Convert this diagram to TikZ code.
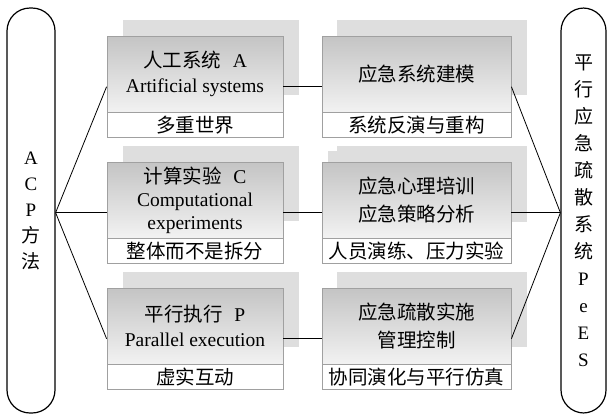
\documentclass[tikz,border=0pt]{standalone}
\usepackage{fontspec}
\setmainfont{Liberation Serif}
\newfontfamily\cjk{Noto Sans CJK SC}
\usetikzlibrary{positioning,fit}
\definecolor{boxtop}{RGB}{196,196,196}
\definecolor{boxbot}{RGB}{242,242,242}
\definecolor{shade}{RGB}{222,222,222}
\definecolor{rim}{RGB}{160,160,160}
\tikzset{
  pill/.style={draw,line width=1.2pt,rounded corners=23pt,inner sep=0pt,align=center},
  upper/.style={draw=rim,top color=boxtop,bottom color=boxbot,minimum height=76pt,inner sep=0pt,align=center,font=\fontsize{19.5}{25}\selectfont},
  lower/.style={draw=rim,fill=white,minimum height=25pt,inner sep=0pt,font=\fontsize{19.5}{25}\selectfont\cjk},
  leftcol/.style={minimum width=176pt},
  rightcol/.style={minimum width=189pt},
  ghost/.style={fill=shade},
  link/.style={line width=0.8pt}
}
\begin{document}
\begin{tikzpicture}[x=1pt,y=-1pt]
    \useasboundingbox (0,0) rectangle (607,416);
    % shadows behind the boxes
    \foreach \t in {20,146,272} {
      \fill[ghost] (123,\t) rectangle ++(176,75);
      \fill[ghost] (337,\t) rectangle ++(190,75);
    }
    \fill[ghost] (328,151) rectangle ++(199,71);
    % left column
    \node[upper,leftcol] (A0_0) at (195,74) {{\cjk 人工系统}\hspace{0.6em}A\\Artificial systems};
    \node[lower,leftcol,below=0pt of A0_0] (B0_0) {多重世界};
    \node[upper,leftcol,font=\fontsize{19.5}{23}\selectfont] (A1_0) at (195,200) {{\cjk 计算实验}\hspace{0.6em}C\\Computational\\experiments};
    \node[lower,leftcol,below=0pt of A1_0] (B1_0) {整体而不是拆分};
    \node[upper,leftcol] (A2_0) at (195,326) {{\cjk 平行执行}\hspace{0.6em}P\\Parallel execution};
    \node[lower,leftcol,below=0pt of A2_0] (B2_0) {虚实互动};
    % right column
    \node[upper,rightcol,font=\fontsize{19.5}{25}\selectfont\cjk] (A0_1) at (416.5,74) {应急系统建模};
    \node[lower,rightcol,below=0pt of A0_1] (B0_1) {系统反演与重构};
    \node[upper,rightcol,font=\fontsize{19.5}{28}\selectfont\cjk] (A1_1) at (416.5,200) {应急心理培训\\应急策略分析};
    \node[lower,rightcol,below=0pt of A1_1] (B1_1) {人员演练、压力实验};
    \node[upper,rightcol,font=\fontsize{19.5}{28}\selectfont\cjk] (A2_1) at (416.5,326) {应急疏散实施\\管理控制};
    \node[lower,rightcol,below=0pt of A2_1] (B2_1) {协同演化与平行仿真};
    \foreach \i in {0,1,2} {
      \node[fit=(A\i_0)(B\i_0),inner sep=0pt] (F\i_0) {};
      \node[fit=(A\i_1)(B\i_1),inner sep=0pt] (F\i_1) {};
    }
    % pills
    \node[pill,minimum width=48pt,minimum height=405pt,font=\fontsize{19}{26}\selectfont] (P0) at (31,210.5)
      {A\\C\\P\\{\cjk 方}\\{\cjk 法}};
    \node[pill,minimum width=45pt,minimum height=405pt,font=\fontsize{19}{27}\selectfont] (P1) at (583.5,210.5)
      {{\cjk 平}\\{\cjk 行}\\{\cjk 应}\\{\cjk 急}\\{\cjk 疏}\\{\cjk 散}\\{\cjk 系}\\{\cjk 统}\\P\\e\\E\\S};
    \coordinate (L) at (P0.east |- F1_0.west);
    \coordinate (R) at (P1.west |- F1_1.east);
    \foreach \i in {0,1,2} {
      \path (L) edge [link] (F\i_0.west);
      \path (F\i_0.east) edge [link] (F\i_1.west);
      \path (F\i_1.east) edge [link] (R);
    }
\end{tikzpicture}
\end{document}
